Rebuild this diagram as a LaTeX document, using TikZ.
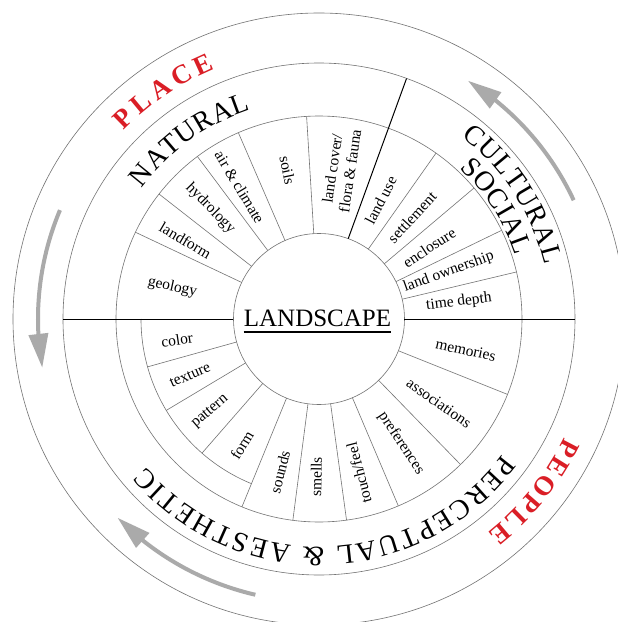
\documentclass[tikz,border=0pt]{standalone}
\usepackage{fontspec}
\setmainfont{Liberation Serif}
\usetikzlibrary{arrows.meta,bending,decorations.text}
\definecolor{ringgray}{RGB}{115,115,115}
\definecolor{arrowgray}{RGB}{170,170,170}
\definecolor{placered}{RGB}{218,30,38}
\newcommand\itemfont{\fontsize{15.5}{18}\selectfont}
\newcommand\catfont{\fontsize{28}{28}\selectfont}
\newcommand\redfont{\fontsize{27}{27}\selectfont\bfseries}
\begin{document}
\begin{tikzpicture}[x=1pt,y=1pt,
  ring/.style={draw=ringgray, line width=0.6pt},
  divider/.style={draw=ringgray, line width=0.6pt},
  mainline/.style={draw=black, line width=1pt},
  itemlabel/.style={font=\itemfont, inner sep=0pt, align=center},
  cyclearrow/.style={draw=arrowgray, line width=4pt, -{Triangle[length=34pt,width=19pt]}},
]
\useasboundingbox (-319,-303) rectangle (299,319);
\clip (-319,-303) rectangle (299,319);
\fill[white] (-319,-303) rectangle (299,319);

% rings
\draw[ring] (0,0) circle[radius=85.5];
\draw[ring] (0,0) circle[radius=203];
\draw[ring] (0,0) circle[radius=256];
\draw[ring] (0,0) circle[radius=306];
\draw[ring] (180:178) arc[start angle=180, end angle=247.7, radius=178];

% dividers
\foreach \a in {154.7,142,126.8,113.4,93.5,54.8,40.2,25.9,13.4,
                247.7,262.6,277.8,293,314.2,338.2}
  \draw[divider] (\a:85.5) -- (\a:203);
\foreach \a in {195.6,210.9,228.9}
  \draw[divider] (\a:85.5) -- (\a:178);

% main black lines
\draw[mainline] (0:85.5) -- (0:256);
\draw[mainline] (180:85.5) -- (180:256);
\draw[mainline] (70:85.5) -- (70:256);

% centre
\node[font=\fontsize{25}{25}\selectfont, inner sep=0pt, anchor=base] (title) at (-1.5,-7) {LANDSCAPE};
\draw[line width=1.6pt] ([yshift=-6pt]title.base west) -- ([yshift=-6pt]title.base east);

% natural items
\node[itemlabel, rotate=-12.3] (geology) at (167.7:150) {geology};
\node[itemlabel, rotate=-30.5] (landform) at (149.5:155) {landform};
\node[itemlabel, rotate=-45.5] (hydrology) at (134.5:155) {hydrology};
\node[itemlabel, rotate=-59] (air) at (121:154) {air \& climate};
\node[itemlabel, rotate=-78] (soils) at (102:152) {soils};
\node[itemlabel, rotate=81.6] (cover) at (81.6:151) {land cover/\\flora \& fauna};
% cultural items
\node[itemlabel, rotate=62.5] (landuse) at (62.5:134) {land use};
\node[itemlabel, rotate=47.6] (settlement) at (47.6:138) {settlement};
\node[itemlabel, rotate=33] (enclosure) at (33:131.5) {enclosure};
\node[itemlabel, rotate=19.9] (ownership) at (19.9:138) {land ownership};
\node[itemlabel, rotate=6.9] (timedepth) at (6.9:141) {time depth};
% perceptual items
\node[itemlabel, rotate=-12] (memories) at (348:150) {memories};
\node[itemlabel, rotate=-35] (associations) at (325:146.5) {associations};
\node[itemlabel, rotate=-56.5] (preferences) at (303.5:149) {preferences};
\node[itemlabel, rotate=104.5] (touch) at (284.5:159) {touch/feel};
\node[itemlabel, rotate=89] (smells) at (269:158) {smells};
\node[itemlabel, rotate=75.7] (sounds) at (255.7:158) {sounds};
\node[itemlabel, rotate=58.6] (form) at (238.6:148) {form};
\node[itemlabel, rotate=40.5] (pattern) at (220.5:143) {pattern};
\node[itemlabel, rotate=23.5] (texture) at (203.5:140.6) {texture};
\node[itemlabel, rotate=8.4] (color) at (188.4:143.5) {color};

% category labels
\path[decorate, decoration={text along path, text={|\catfont|NATURAL}, text align={fit to path}}]
  (143.5:220) arc[start angle=143.5, end angle=108, radius=220];
\path[decorate, decoration={text along path, text={|\catfont|CULTURAL}, text align={fit to path}}]
  (52:232) arc[start angle=52, end angle=13.5, radius=232];
\path[decorate, decoration={text along path, text={|\catfont|SOCIAL}, text align={fit to path}}]
  (47:206) arc[start angle=47, end angle=18, radius=206];
\path[decorate, decoration={text along path, text={|\catfont|PERCEPTUAL {\&} AESTHETIC}, text align={fit to path}}]
  (323.5:228) arc[start angle=323.5, end angle=220.5, radius=228];
\path[decorate, decoration={text along path, text={|\redfont|PLACE}, text color=placered, text align={fit to path}}]
  (136:271) arc[start angle=136, end angle=112.6, radius=271];
\path[decorate, decoration={text along path, text={|\redfont|PEOPLE}, text color=placered, text align={fit to path}}]
  (334.3:272) arc[start angle=334.3, end angle=308.2, radius=272];

% cycle arrows
\draw[cyclearrow] (157.2:281) arc[start angle=157.2, end angle=190, radius=281];
\draw[cyclearrow] (25:281) arc[start angle=25, end angle=58, radius=281];
\draw[cyclearrow] (257:283) arc[start angle=257, end angle=224.6, radius=283];
\end{tikzpicture}
\end{document}
